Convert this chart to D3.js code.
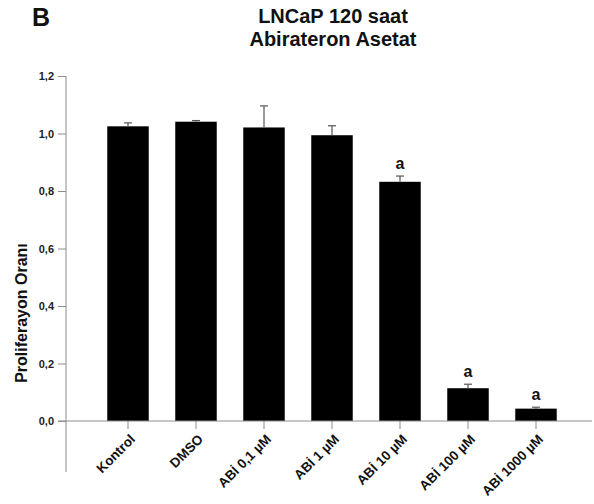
<!DOCTYPE html>
<html>
<head>
<meta charset="utf-8">
<script src="https://cdn.jsdelivr.net/npm/d3@7"></script>
<style>
  html, body { margin: 0; padding: 0; background: #fff; }
  svg { display: block; font-family: "Liberation Sans", Arial, sans-serif; }
</style>
</head>
<body>
<svg id="chart" width="594" height="504"></svg>
<script>
const categories = ["Kontrol", "DMSO", "ABİ 0,1 µM", "ABİ 1 µM", "ABİ 10 µM", "ABİ 100 µM", "ABİ 1000 µM"];
const values = [1.025, 1.041, 1.021, 0.994, 0.832, 0.114, 0.043];
const errors = [0.012, 0.004, 0.075, 0.033, 0.020, 0.014, 0.005];
const marks = ["", "", "", "", "a", "a", "a"];
const yTicks = [0, 0.2, 0.4, 0.6, 0.8, 1.0, 1.2];
const titleLines = ["LNCaP 120 saat", "Abirateron Asetat"];
const panelLabel = "B";
const yLabel = "Proliferayon Oranı";

const svg = d3.select("#chart");
const axisColor = "#8c8c8c";

const y = d3.scaleLinear().domain([0, 1.2]).range([421, 76]);
const x = d3.scaleBand().domain(categories).range([94, 570])
  .paddingInner(0.39).paddingOuter(0.195);

// panel label
svg.append("text").attr("x", 32).attr("y", 26)
  .attr("font-size", 25).attr("font-weight", "bold").attr("fill", "#111")
  .text(panelLabel);

// title
titleLines.forEach((t, i) => {
  svg.append("text").attr("x", 333).attr("y", 23 + i * 23)
    .attr("text-anchor", "middle").attr("font-size", 20).attr("font-weight", "bold")
    .attr("fill", "#111").text(t);
});

// y axis
const yAxis = d3.axisLeft(y).tickValues(yTicks).tickSize(8).tickPadding(4)
  .tickFormat(d => d3.format(".1f")(d).replace(".", ","));
const gy = svg.append("g").attr("transform", "translate(66,0)").call(yAxis);
gy.select(".domain").remove();
gy.selectAll(".tick line").attr("stroke", axisColor);
gy.selectAll(".tick text").attr("font-size", 11).attr("font-weight", "bold")
  .attr("fill", "#222").attr("font-family", "Liberation Sans, Arial, sans-serif");
svg.append("line").attr("x1", 66).attr("x2", 66).attr("y1", y(1.2)).attr("y2", 472)
  .attr("stroke", axisColor).attr("stroke-width", 1);

// bars
svg.append("g").selectAll("rect").data(categories).join("rect")
  .attr("x", d => x(d)).attr("width", x.bandwidth())
  .attr("y", (d, i) => y(values[i])).attr("height", (d, i) => y(0) - y(values[i]))
  .attr("fill", "#000");

// error bars
const eg = svg.append("g").attr("stroke", "#555").attr("stroke-width", 1.2);
categories.forEach((c, i) => {
  const cx = x(c) + x.bandwidth() / 2;
  eg.append("line").attr("x1", cx).attr("x2", cx)
    .attr("y1", y(values[i])).attr("y2", y(values[i] + errors[i]));
  eg.append("line").attr("x1", cx - 4).attr("x2", cx + 4)
    .attr("y1", y(values[i] + errors[i])).attr("y2", y(values[i] + errors[i]));
});

// significance marks
categories.forEach((c, i) => {
  if (!marks[i]) return;
  svg.append("text").attr("x", x(c) + x.bandwidth() / 2)
    .attr("y", y(values[i] + errors[i]) - 7)
    .attr("text-anchor", "middle").attr("font-size", 16).attr("font-weight", "bold")
    .attr("fill", "#111").text(marks[i]);
});

// x axis
const xAxis = d3.axisBottom(x).tickSize(8).tickSizeOuter(0).tickFormat("");
const gx = svg.append("g").attr("transform", `translate(0,${y(0)})`).call(xAxis);
gx.select(".domain").remove();
gx.selectAll(".tick line").attr("stroke", axisColor);
svg.append("line").attr("x1", 58).attr("x2", 592).attr("y1", y(0)).attr("y2", y(0))
  .attr("stroke", axisColor).attr("stroke-width", 1);

// x labels
svg.append("g").selectAll("text").data(categories).join("text")
  .attr("transform", d => `translate(${x(d) + x.bandwidth() / 2 + 8},${y(0) + 19}) rotate(-45)`)
  .attr("text-anchor", "end").attr("font-size", 13.5).attr("font-weight", "bold")
  .attr("fill", "#111").text(d => d);

// y label
svg.append("text")
  .attr("transform", `translate(27,313) rotate(-90)`)
  .attr("text-anchor", "middle").attr("font-size", 16).attr("font-weight", "bold")
  .attr("fill", "#111").text(yLabel);
</script>
</body>
</html>
